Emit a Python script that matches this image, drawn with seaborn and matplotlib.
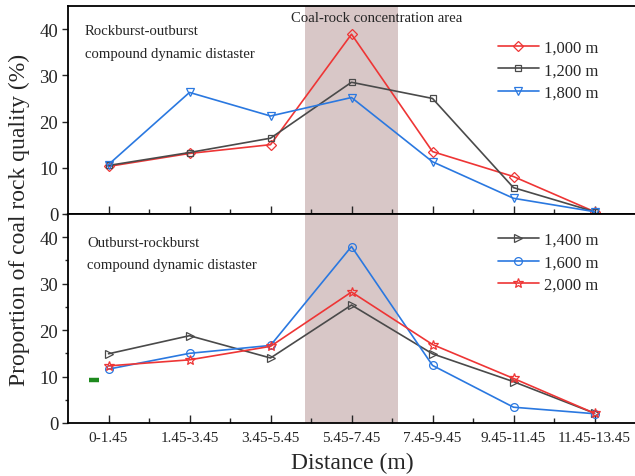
import numpy as np
import pandas as pd
import matplotlib
matplotlib.use("Agg")
import matplotlib.pyplot as plt
import seaborn as sns
from matplotlib.ticker import MultipleLocator, FixedLocator

categories = ["0-1.45", "1.45-3.45", "3.45-5.45", "5.45-7.45",
              "7.45-9.45", "9.45-11.45", "11.45-13.45"]

# top panel
d1000 = [10.3, 13.1, 15.0, 38.9, 13.5, 8.1, 0.5]
d1200 = [10.5, 13.3, 16.4, 28.5, 25.0, 5.7, 0.5]
d1800 = [10.7, 26.3, 21.2, 25.2, 11.3, 3.4, 0.5]
# bottom panel
d1400 = [14.9, 18.8, 14.0, 25.4, 14.9, 8.9, 2.1]
d1600 = [11.6, 15.0, 16.7, 38.0, 12.4, 3.4, 2.0]
d2000 = [12.3, 13.6, 16.5, 28.2, 16.9, 9.6, 2.1]

# stray green mark in the bottom panel
stray_x = [-0.185]
stray_y = [9.3]

RED = "#ee3535"
GRAY = "#4a4a4a"
BLUE = "#2a78e0"
SHADE = "#d8c7c7"

sns.set_style("ticks")
plt.rcParams["font.family"] = ["Liberation Serif", "DejaVu Serif"]
plt.rcParams["mathtext.fontset"] = "stix"

fig = plt.figure(figsize=(6.35, 4.77), dpi=100)
ax1 = fig.add_axes([68 / 635, 1 - 215 / 477, 1 - 68 / 635, 208 / 477])
ax2 = fig.add_axes([68 / 635, 1 - 424 / 477, 1 - 68 / 635, 209 / 477])

x = np.arange(len(categories))


def draw(ax, y, color, marker, label, ms=7):
    df = pd.DataFrame({"x": x, "y": y})
    sns.lineplot(data=df, x="x", y="y", ax=ax, color=color, marker=marker,
                 markersize=ms, markerfacecolor="none", markeredgecolor=color,
                 markeredgewidth=0.9, linewidth=1.2, label=label)


for ax in (ax1, ax2):
    ax.axvspan(2.43, 3.58, color=SHADE, zorder=0, lw=0)

draw(ax1, d1000, RED, "D", "1,000 m", ms=5.0)
draw(ax1, d1200, GRAY, "s", "1,200 m", ms=4.8)
draw(ax1, d1800, BLUE, "v", "1,800 m", ms=6.2)

draw(ax2, d1400, GRAY, ">", "1,400 m", ms=6.4)
draw(ax2, d1600, BLUE, "o", "1,600 m", ms=5.6)
draw(ax2, d2000, RED, "*", "2,000 m", ms=7.0)

ax2.plot(stray_x, stray_y, marker="_", color="#1e8a1e", markersize=7,
         markeredgewidth=3.2, linestyle="none")

for ax in (ax1, ax2):
    ax.set_xlim(-0.5, 6.5)
    ax.set_ylim(0, 45)
    ax.set_xlabel("")
    ax.set_ylabel("")
    ax.set_yticks([0, 10, 20, 30, 40])
    ax.set_xticks(x)
    ax.xaxis.set_minor_locator(FixedLocator(x[:-1] + 0.5))
    ax.tick_params(axis="y", which="major", direction="out", length=4,
                   width=1.0, labelsize=13.5, pad=3)
    ax.tick_params(axis="x", which="major", direction="in", length=6,
                   width=1.0, labelsize=11, pad=6)
    ax.tick_params(axis="x", which="minor", direction="in", length=3.5,
                   width=1.0)
    for s in ["left", "bottom", "top"]:
        ax.spines[s].set_linewidth(1.3)
        ax.spines[s].set_color("black")
    ax.spines["right"].set_visible(False)
    ax.spines["top"].set_visible(True)

ax2.yaxis.set_minor_locator(MultipleLocator(5))
ax2.tick_params(axis="y", which="minor", direction="out", length=2.5, width=1.0)
ax1.tick_params(axis="x", labelbottom=False)
ax2.set_xticklabels(categories)

leg_kw = dict(frameon=False, fontsize=12, handlelength=2.45, handletextpad=0.3,
              labelspacing=0.38, borderaxespad=0.0, borderpad=0.0)
# upper-left corner of legend placed in axes fraction
ax1.legend(loc="upper left", bbox_to_anchor=((498 - 68) / 567, (215 - 41) / 208), **leg_kw)
ax2.legend(loc="upper left", bbox_to_anchor=((498 - 68) / 567, (424 - 233) / 209), **leg_kw)

ann = 10.6
ax1.text((85 - 68) / 567, 0.884, "Rockburst-outburst", transform=ax1.transAxes,
         fontsize=ann, va="center", ha="left")
ax1.text((85 - 68) / 567, 0.772, "compound dynamic distaster", transform=ax1.transAxes,
         fontsize=ann, va="center", ha="left")
ax1.text((377 - 68) / 567, 0.947, "Coal-rock concentration area",
         transform=ax1.transAxes, fontsize=ann, va="center", ha="center")

ax2.text((87 - 68) / 567, 0.862, "Outburst-rockburst", transform=ax2.transAxes,
         fontsize=ann, va="center", ha="left")
ax2.text((87 - 68) / 567, 0.757, "compound dynamic distaster", transform=ax2.transAxes,
         fontsize=ann, va="center", ha="left")

fig.text(352 / 635, 1 - 463 / 477, "Distance (m)", fontsize=17,
         ha="center", va="center")
fig.text(19 / 635, 1 - 220 / 477, "Proportion of coal rock quality (%)",
         fontsize=17, rotation=90, ha="center", va="center")

fig.savefig("out.png", dpi=100)
